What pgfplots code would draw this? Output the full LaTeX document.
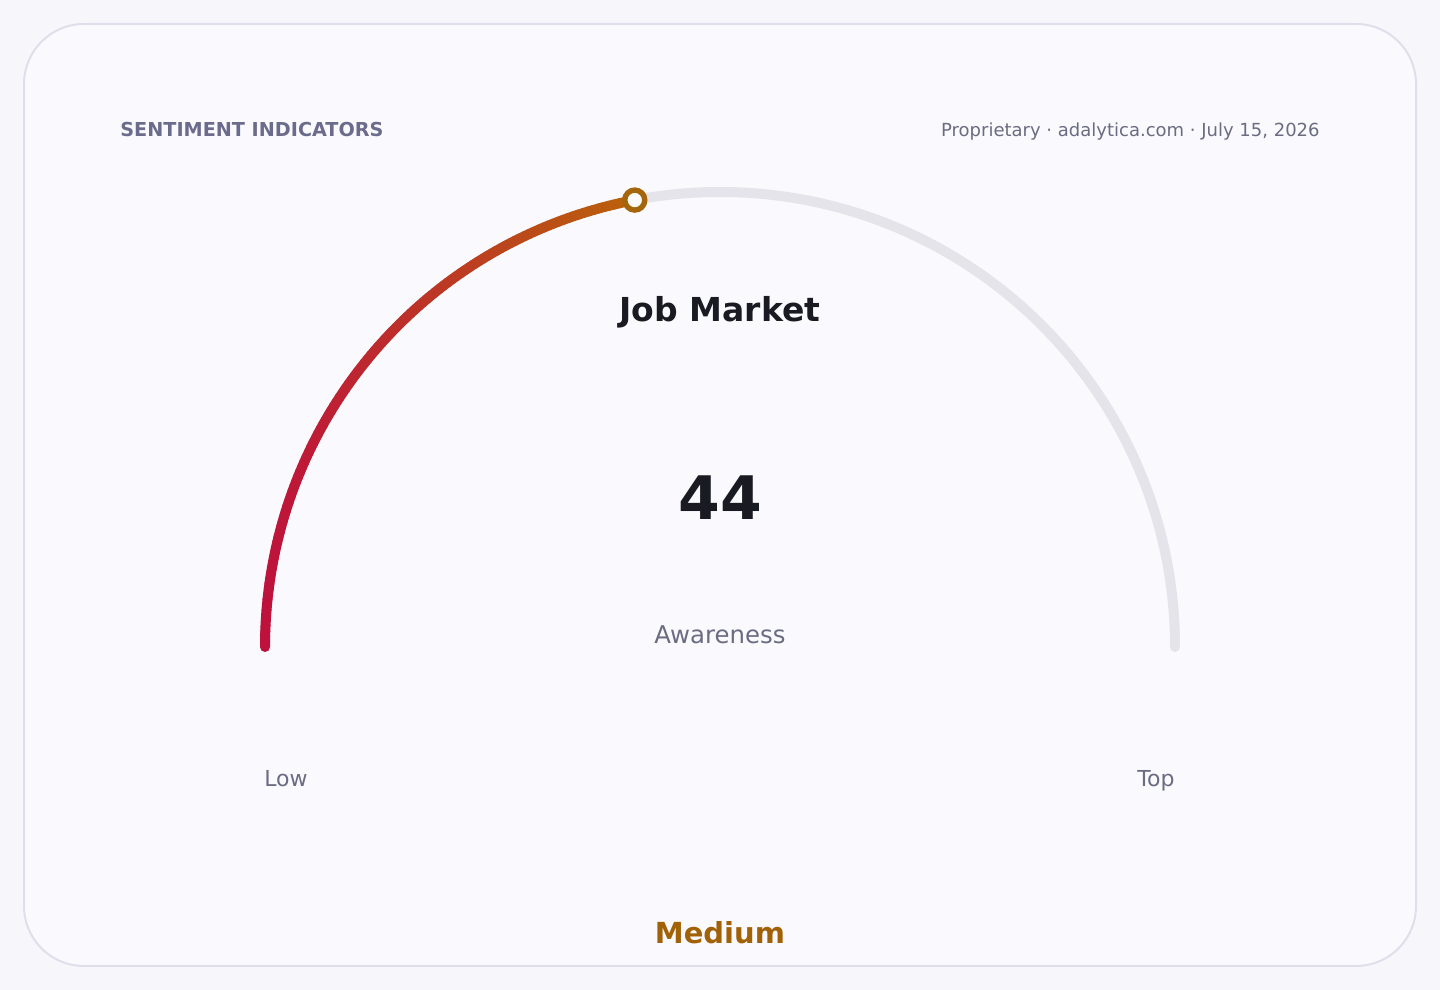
\documentclass[border=0pt]{standalone}
\usepackage{pgfplots}
\usepackage{pgfplotstable}
\pgfplotsset{compat=1.18}
\usepackage{fontspec}
\setmainfont{DejaVu Sans}

\definecolor{pagebg}{HTML}{F7F7FB}
\definecolor{cardbg}{HTML}{FAFAFE}
\definecolor{cardedge}{HTML}{DFDFEC}
\definecolor{track}{HTML}{E4E4EA}
\definecolor{crim}{HTML}{BE123C}
\definecolor{amb}{HTML}{BA620A}
\definecolor{ring}{HTML}{A5650A}
\definecolor{medc}{HTML}{A16207}
\definecolor{headc}{HTML}{6B6B8C}
\definecolor{subc}{HTML}{6B6B82}
\definecolor{ink}{HTML}{1A1A22}

% gauge reading
\pgfplotstableread{
value radius
44    455
}\gauge
\pgfplotstablegetelem{0}{value}\of\gauge
\let\gval\pgfplotsretval

\begin{document}
\begin{tikzpicture}
\begin{axis}[
    width=720pt, height=495pt,
    scale only axis,
    hide axis,
    clip=false,
    xmin=-720, xmax=720,
    ymin=-343, ymax=647,
    colormap={gauge}{color=(crim) color=(amb)},
]
% background and card
\fill[pagebg] (rel axis cs:0,0) rectangle (rel axis cs:1,1);
\draw[cardedge, fill=cardbg, line width=1pt, rounded corners=30pt]
    (axis cs:-696,-319) rectangle (axis cs:696,623);

% track
\draw[track, line width=5pt, line cap=round]
    (axis cs:455,0) arc[start angle=0, end angle=180, radius=227.5pt];

% filled part of the gauge
\addplot[mesh, point meta=x, point meta min=-455, point meta max=-86,
    line width=5pt, line cap=round, domain={180-1.8*\gval}:180,
    samples=120, variable=\t]
    ({455*cos(\t)}, {455*sin(\t)});

% marker at the value
\addplot[only marks, mark=*, mark size=5pt,
    mark options={fill=cardbg, draw=ring, line width=2.7pt}]
    table[x expr={\thisrow{radius}*cos(180-1.8*\thisrow{value})},
          y expr={\thisrow{radius}*sin(180-1.8*\thisrow{value})}] {\gauge};

% texts
\node[anchor=base west, inner sep=0pt, text=headc, font=\fontsize{9.6}{11}\selectfont\bfseries]
    at (axis cs:-600,510) {SENTIMENT INDICATORS};
\node[anchor=base east, inner sep=0pt, text=subc, font=\fontsize{9}{11}\selectfont]
    at (axis cs:600,510) {Proprietary · adalytica.com · July 15, 2026};
\node[anchor=base, text=ink, font=\fontsize{16.5}{20}\selectfont\bfseries]
    at (axis cs:0,325) {Job Market};
\node[anchor=base, text=ink, font=\fontsize{30}{36}\selectfont\bfseries]
    at (axis cs:0,127) {\gval};
\node[anchor=base, text=subc, font=\fontsize{12.2}{14}\selectfont]
    at (axis cs:0,3) {Awareness};
\node[anchor=base, text=subc, font=\fontsize{11}{13}\selectfont]
    at (axis cs:-434,-140) {Low};
\node[anchor=base, text=subc, font=\fontsize{11}{13}\selectfont]
    at (axis cs:436,-140) {Top};
\node[anchor=base, text=medc, font=\fontsize{14.5}{17}\selectfont\bfseries]
    at (axis cs:0,-297) {Medium};
\end{axis}
\end{tikzpicture}
\end{document}
